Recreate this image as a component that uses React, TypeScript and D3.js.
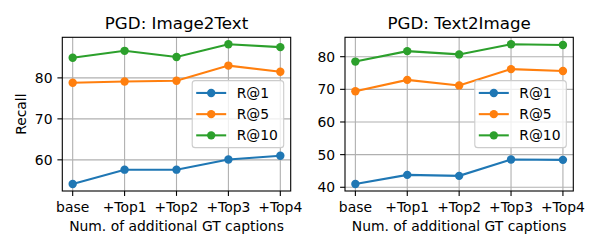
import React from 'react';
import * as d3 from 'd3';

// x categories
const categories = ['base', '+Top1', '+Top2', '+Top3', '+Top4'];
const seriesNames = ['R@1', 'R@5', 'R@10'];
const seriesColors = ['#1f77b4', '#ff7f0e', '#2ca02c'];

// PGD: Image2Text
const i2tR1 = [54.1, 57.6, 57.6, 60.1, 61.0];
const i2tR5 = [78.8, 79.1, 79.3, 83.0, 81.5];
const i2tR10 = [84.9, 86.6, 85.1, 88.2, 87.5];
const i2tTicks = [60, 70, 80];

// PGD: Text2Image
const t2iR1 = [41.0, 43.8, 43.5, 48.5, 48.4];
const t2iR5 = [69.4, 72.9, 71.2, 76.2, 75.6];
const t2iR10 = [78.5, 81.7, 80.7, 83.8, 83.6];
const t2iTicks = [40, 50, 60, 70, 80];

const FONT = 'DejaVu Sans, sans-serif';
const FS = 13.9; // 10pt at 100dpi
const TICK = 4.9;

type PanelProps = {
  title: string;
  ylabel?: string;
  series: number[][];
  yTicks: number[];
  box: { x0: number; x1: number; y0: number; y1: number };
};

const Panel = ({ title, ylabel, series, yTicks, box }: PanelProps) => {
  const { x0, x1, y0, y1 } = box;
  const x = d3.scalePoint<string>().domain(categories).range([x0, x1]).padding(0.2);
  const all = series.flat();
  const lo = d3.min(all) as number;
  const hi = d3.max(all) as number;
  const pad = (hi - lo) * 0.05;
  const y = d3.scaleLinear().domain([lo - pad, hi + pad]).range([y1, y0]);
  const line = d3
    .line<number>()
    .x((_, i) => x(categories[i]) as number)
    .y(d => y(d));

  const cx = (x0 + x1) / 2;
  const cy = (y0 + y1) / 2;
  // legend, "center right"
  const legW = 91.5;
  const legH = 67;
  const legX = x1 - 7 - legW;
  const legY = cy - legH / 2;

  return (
    <g fontFamily={FONT}>
      {/* grid */}
      {categories.map(c => (
        <line key={'gx' + c} x1={x(c)} x2={x(c)} y1={y0} y2={y1} stroke="#b0b0b0" strokeWidth={1.1} />
      ))}
      {yTicks.map(t => (
        <line key={'gy' + t} x1={x0} x2={x1} y1={y(t)} y2={y(t)} stroke="#b0b0b0" strokeWidth={1.1} />
      ))}

      {/* series */}
      {series.map((s, si) => (
        <g key={'s' + si}>
          <path d={line(s) || ''} fill="none" stroke={seriesColors[si]} strokeWidth={2.08} />
          {s.map((v, i) => (
            <circle key={i} cx={x(categories[i])} cy={y(v)} r={4.2} fill={seriesColors[si]} />
          ))}
        </g>
      ))}

      {/* spines */}
      <rect x={x0} y={y0} width={x1 - x0} height={y1 - y0} fill="none" stroke="#000" strokeWidth={1.1} />

      {/* x ticks */}
      {categories.map(c => (
        <g key={'xt' + c}>
          <line x1={x(c)} x2={x(c)} y1={y1} y2={y1 + TICK} stroke="#000" strokeWidth={1.1} />
          <text x={x(c)} y={212} textAnchor="middle" fontSize={FS} fill="#000">{c}</text>
        </g>
      ))}
      {/* y ticks */}
      {yTicks.map(t => (
        <g key={'yt' + t}>
          <line x1={x0 - TICK} x2={x0} y1={y(t)} y2={y(t)} stroke="#000" strokeWidth={1.1} />
          <text x={x0 - 9.8} y={y(t) + 5} textAnchor="end" fontSize={FS} fill="#000">{t}</text>
        </g>
      ))}

      <text x={cx} y={29.3} textAnchor="middle" fontSize={16.7} fill="#000">{title}</text>
      <text x={cx} y={231} textAnchor="middle" fontSize={FS} fill="#000">Num. of additional GT captions</text>
      {ylabel && (
        <text transform={`translate(26,${cy}) rotate(-90)`} textAnchor="middle" fontSize={FS} fill="#000">{ylabel}</text>
      )}

      {/* legend */}
      <rect x={legX} y={legY} width={legW} height={legH} rx={3} fill="#fff" fillOpacity={0.8} stroke="#cccccc" strokeWidth={1.1} />
      {seriesNames.map((n, i) => {
        const ry = cy + (i - 1) * 21.2;
        return (
          <g key={'lg' + n}>
            <line x1={legX + 4} x2={legX + 34} y1={ry} y2={ry} stroke={seriesColors[i]} strokeWidth={2.08} />
            <circle cx={legX + 19} cy={ry} r={4.2} fill={seriesColors[i]} />
            <text x={legX + 44.5} y={ry + 5} fontSize={FS} fill="#000">{n}</text>
          </g>
        );
      })}
    </g>
  );
};

const App = () => (
  <svg width={600} height={250} style={{ position: 'absolute', left: 0, top: 0, background: '#fff' }}>
    <rect width={600} height={250} fill="#fff" />
    <Panel
      title="PGD: Image2Text"
      ylabel="Recall"
      series={[i2tR1, i2tR5, i2tR10]}
      yTicks={i2tTicks}
      box={{ x0: 62.3, x1: 290.7, y0: 37.3, y1: 191 }}
    />
    <Panel
      title="PGD: Text2Image"
      series={[t2iR1, t2iR5, t2iR10]}
      yTicks={t2iTicks}
      box={{ x0: 345, x1: 573.3, y0: 37.3, y1: 191 }}
    />
  </svg>
);

export default App;
